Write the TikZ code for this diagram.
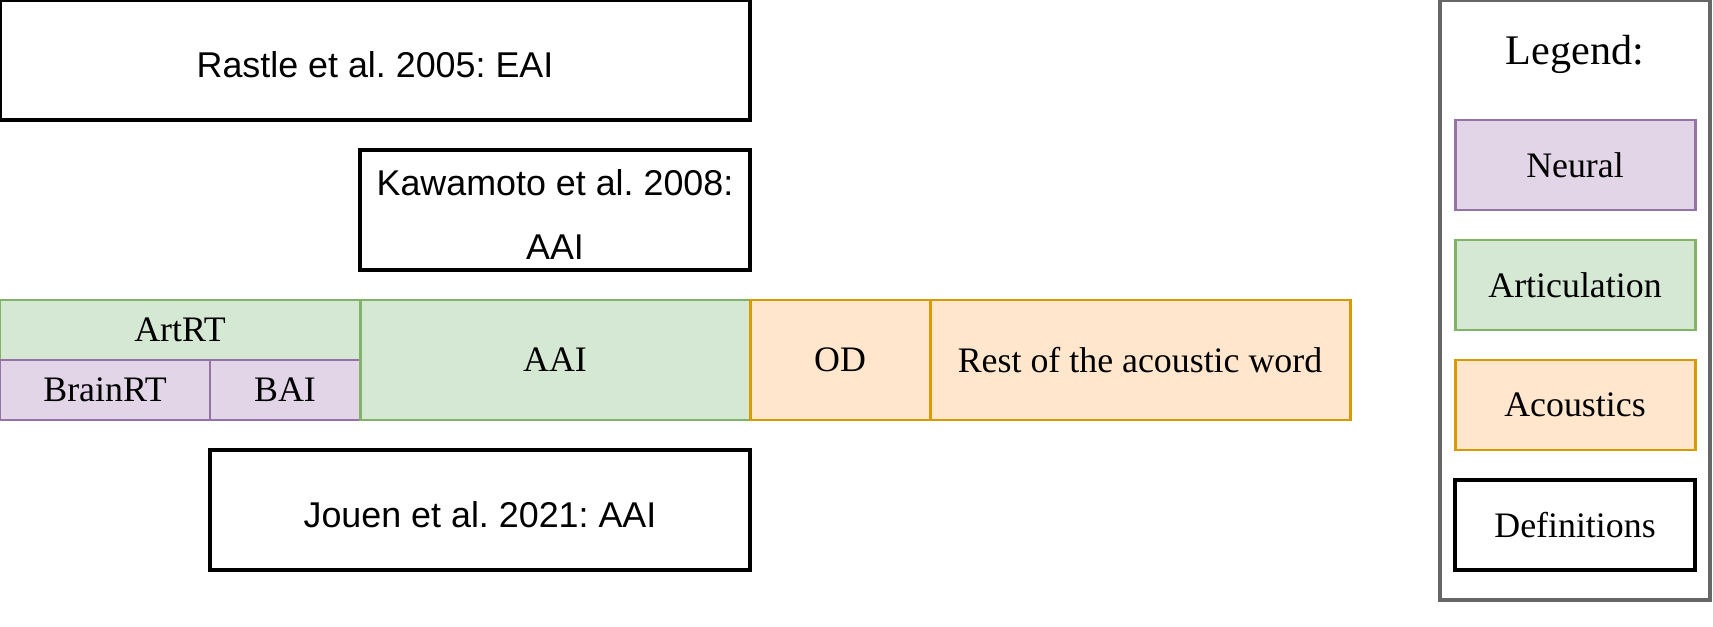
\documentclass[tikz,border=0pt]{standalone}
\usepackage{fontspec}
\setmainfont{Liberation Serif}
\newfontfamily\sansf{Liberation Sans}
\usepackage{tikz}

\definecolor{neurfill}{HTML}{E1D5E7}
\definecolor{neurline}{HTML}{9673A6}
\definecolor{artfill}{HTML}{D5E8D4}
\definecolor{artline}{HTML}{82B366}
\definecolor{acofill}{HTML}{FFE6CC}
\definecolor{acoline}{HTML}{D79B00}
\definecolor{legline}{HTML}{666666}

\newcommand{\lowstrut}{\rule{0pt}{10pt}}

\tikzset{
	box/.style={rectangle, anchor=north west, inner sep=0pt, outer sep=0pt, align=center, font=\fontsize{10.2}{18.4}\selectfont},
	defbox/.style={box, draw=black, line width=1pt, fill=white},
	neurbox/.style={box, draw=neurline, fill=neurfill, line width=0.85pt},
	artbox/.style={box, draw=artline, fill=artfill, line width=0.85pt},
	acobox/.style={box, draw=acoline, fill=acofill, line width=0.85pt}
}

\begin{document}
\frenchspacing
\begin{tikzpicture}
	
	\useasboundingbox (0,0) rectangle (17.13,-6.27);
	
	\node[defbox, minimum width=7.5cm, minimum height=1.2cm] (rastle) at (0,0) {\sansf\lowstrut Rastle et al. 2005: EAI};
	\node[defbox, minimum width=3.9cm, minimum height=1.2cm] (kawa) at (3.6,-1.5) {\sansf\lowstrut Kawamoto et al. 2008:\\\sansf AAI};
	
	\node[artbox, minimum width=3.6cm, minimum height=0.6cm] (artrt) at (0,-3) {ArtRT};
	\node[neurbox, minimum width=2.1cm, minimum height=0.6cm] (brainrt) at (0,-3.6) {BrainRT};
	\node[neurbox, minimum width=1.5cm, minimum height=0.6cm] (bai) at (2.1,-3.6) {BAI};
	\node[artbox, minimum width=3.9cm, minimum height=1.2cm] (aai) at (3.6,-3) {AAI};
	\node[acobox, minimum width=1.8cm, minimum height=1.2cm] (od) at (7.5,-3) {OD};
	\node[acobox, minimum width=4.2cm, minimum height=1.2cm] (rest) at (9.3,-3) {Rest of the acoustic word};
	
	\node[defbox, minimum width=5.4cm, minimum height=1.2cm] (jouen) at (2.1,-4.5) {\sansf\lowstrut Jouen et al. 2021: AAI};
	
	\node[box, draw=legline, line width=1pt, minimum width=2.7cm, minimum height=6cm] (legend) at (14.4,0) {};
	\node[font=\fontsize{12}{14}\selectfont] (legtitle) at (15.75,-0.54) {Legend:};
	\node[neurbox, minimum width=2.4cm, minimum height=0.9cm] (neural) at (14.55,-1.2) {Neural};
	\node[artbox, minimum width=2.4cm, minimum height=0.9cm] (artic) at (14.55,-2.4) {Articulation};
	\node[acobox, minimum width=2.4cm, minimum height=0.9cm] (acou) at (14.55,-3.6) {Acoustics};
	\node[defbox, minimum width=2.4cm, minimum height=0.9cm] (defs) at (14.55,-4.8) {Definitions};
	
\end{tikzpicture}
\end{document}
